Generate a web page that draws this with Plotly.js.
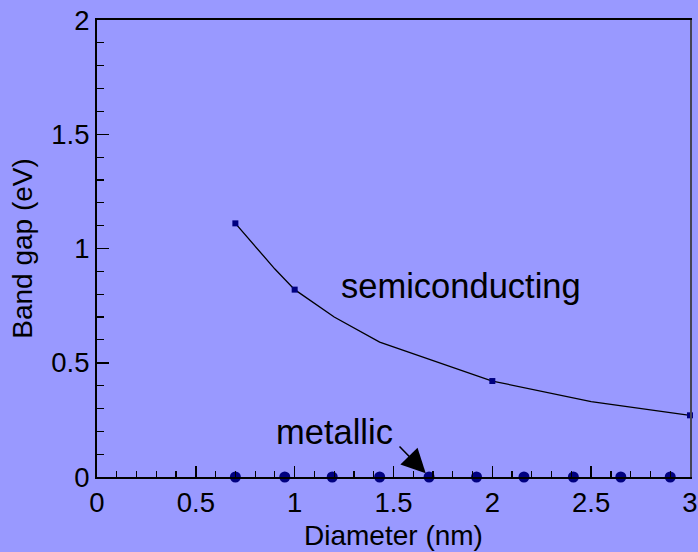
<!DOCTYPE html>
<html>
<head>
<meta charset="utf-8">
<script src="https://cdn.plot.ly/plotly-3.0.1.min.js"></script>
<style>html,body{margin:0;padding:0;background:#9999ff;}#chart{width:698px;height:552px;}</style>
</head>
<body>
<div id="chart"></div>
<script>
// Semiconducting band gap curve (line vertices)
const semiLineDiameter = [0.7, 0.9, 1.0, 1.2, 1.43, 2.0, 2.5, 3.0];
const semiLineGap      = [1.11, 0.91, 0.82, 0.70, 0.59, 0.42, 0.33, 0.27];
// Semiconducting marked points
const semiMarkDiameter = [0.7, 1.0, 2.0, 3.0];
const semiMarkGap      = [1.11, 0.82, 0.42, 0.27];
// Metallic tubes (zero gap)
const metalDiameter = [0.70, 0.95, 1.19, 1.43, 1.68, 1.92, 2.16, 2.41, 2.65, 2.90];
const metalGap      = [0, 0, 0, 0, 0, 0, 0, 0, 0, 0];
// Tick values
const xTicks = [0, 0.5, 1, 1.5, 2, 2.5, 3];
const xTickLabels = ["0", "0.5", "1", "1.5", "2", "2.5", "3"];
const yTicks = [0, 0.5, 1, 1.5, 2];
const yTickLabels = ["0", "0.5", "1", "1.5", "2"];

const FONT = "Arial, 'Liberation Sans', sans-serif";
const NAVY = "#000080";

const traces = [
  {x: semiLineDiameter, y: semiLineGap, mode: "lines", type: "scatter",
   line: {color: "#000000", width: 1.3}, hoverinfo: "skip", cliponaxis: false},
  {x: semiMarkDiameter, y: semiMarkGap, mode: "markers", type: "scatter",
   marker: {symbol: "square", size: 6, color: NAVY}, cliponaxis: false},
  {x: metalDiameter, y: metalGap, mode: "markers", type: "scatter",
   marker: {symbol: "circle", size: 11, color: NAVY}, cliponaxis: false},
  {x: [3], y: [0], yaxis: "y2", mode: "markers", marker: {size: 0, opacity: 0},
   hoverinfo: "skip", showlegend: false}
];

const layout = {
  width: 698, height: 552,
  paper_bgcolor: "#9999ff", plot_bgcolor: "#9999ff",
  showlegend: false,
  margin: {l: 97, r: 8, t: 20, b: 75},
  font: {family: FONT, color: "#000000"},
  xaxis: {
    range: [0, 3], showgrid: false, zeroline: false,
    showline: true, linecolor: "#000000", linewidth: 2, mirror: true,
    ticks: "inside", ticklen: 11, tickwidth: 1.5, tickcolor: "#000000",
    tickvals: xTicks, ticktext: xTickLabels,
    tickfont: {size: 27.5, family: FONT, color: "#000"},
    minor: {dtick: 0.1, ticks: "inside", ticklen: 6, tickwidth: 1.2, tickcolor: "#000", showgrid: false},
    title: {text: "Diameter (nm)", font: {size: 28, family: FONT, color: "#000"}, standoff: 8}
  },
  yaxis: {
    range: [0, 2], showgrid: false, zeroline: false,
    showline: true, linecolor: "#000000", linewidth: 2,
    ticks: "inside", ticklen: 12, tickwidth: 1.5, tickcolor: "#000000",
    tickvals: yTicks, ticktext: yTickLabels,
    tickfont: {size: 27.5, family: FONT, color: "#000"},
    minor: {dtick: 0.1, ticks: "inside", ticklen: 7, tickwidth: 1.2, tickcolor: "#000", showgrid: false},
    title: {text: "Band gap (eV)", font: {size: 28, family: FONT, color: "#000"}, standoff: 10}
  },
  yaxis2: {
    overlaying: "y", side: "right", range: [0, 2],
    showline: true, linecolor: "#444455", linewidth: 2,
    showticklabels: false, ticks: "", showgrid: false, zeroline: false
  },
  annotations: [
    {x: 1.841, y: 0.836, xref: "x", yref: "y", text: "semiconducting", showarrow: false,
     font: {size: 34.5, family: FONT, color: "#000"}, xanchor: "center", yanchor: "middle"},
    {x: 1.204, y: 0.197, xref: "x", yref: "y", text: "metallic", showarrow: false,
     font: {size: 34.5, family: FONT, color: "#000"}, xanchor: "center", yanchor: "middle"},
    {x: 1.663, y: 0.016, xref: "x", yref: "y", ax: 1.523, ay: 0.14, axref: "x", ayref: "y",
     text: "", showarrow: true, arrowhead: 2, arrowsize: 3.2, arrowwidth: 1.5, arrowcolor: "#000"}
  ]
};

Plotly.newPlot("chart", traces, layout, {displayModeBar: false, staticPlot: true});
</script>
</body>
</html>
